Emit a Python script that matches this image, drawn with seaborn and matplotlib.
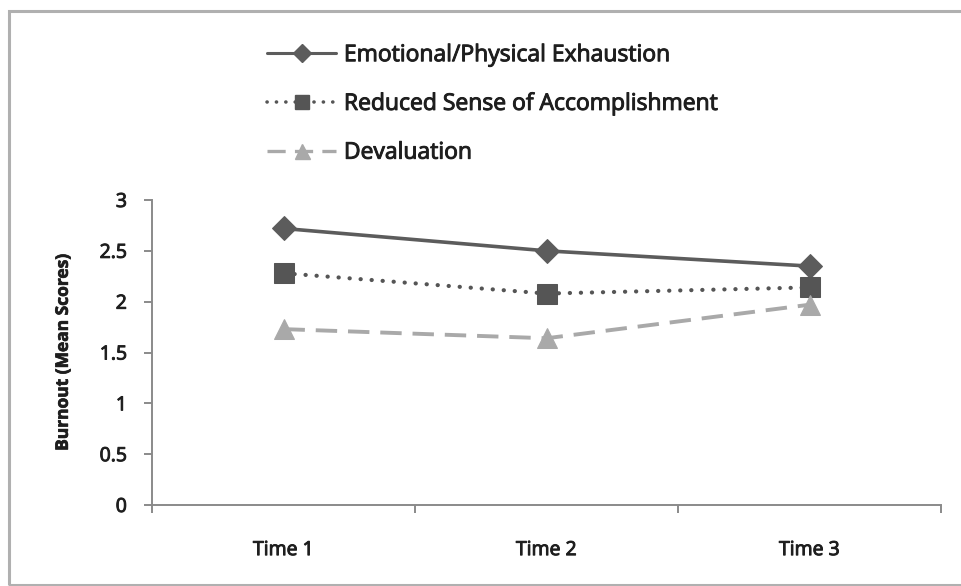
import matplotlib
matplotlib.use("Agg")
import matplotlib.pyplot as plt
import matplotlib.patheffects as pe
from matplotlib.lines import Line2D
import seaborn as sns
import pandas as pd

# Burnout mean scores at three measurement points
times = ["Time 1", "Time 2", "Time 3"]
exhaustion = [2.72, 2.50, 2.35]
accomplishment = [2.28, 2.08, 2.14]
devaluation = [1.73, 1.64, 1.97]
series_names = ["Emotional/Physical Exhaustion",
                "Reduced Sense of Accomplishment",
                "Devaluation"]
y_ticks = [0, 0.5, 1, 1.5, 2, 2.5, 3]
y_tick_labels = ["0", "0.5", "1", "1.5", "2", "2.5", "3"]

sns.set_theme(style="white")
plt.rcParams["font.family"] = ["Open Sans", "DejaVu Sans"]
TEXT = "#1e1e1e"
AXIS = "#8a8a8a"
heavy = [pe.withStroke(linewidth=0.7, foreground=TEXT)]

fig = plt.figure(figsize=(9.61, 5.86), dpi=100)
ax = fig.add_axes([152 / 961, 1 - 505 / 586, (941 - 152) / 961, 305 / 586])

pos = list(range(len(times)))
styles = [
    dict(values=exhaustion, color="#5c5c5c", marker="D", ms=12.5,
         lw=2.6, dashes=None, cap="butt"),
    dict(values=accomplishment, color="#555555", marker="s", ms=14,
         lw=3.0, dashes=(0.05, 2.6), cap="round"),
    dict(values=devaluation, color="#a9a9a9", marker="^", ms=15,
         lw=2.8, dashes=(5.5, 2.8), cap="butt"),
]

for name, st in zip(series_names, styles):
    df = pd.DataFrame({"pos": pos, "score": st["values"]})
    sns.lineplot(data=df, x="pos", y="score", ax=ax, color=st["color"],
                 marker=st["marker"], markersize=st["ms"],
                 markeredgecolor=st["color"], markerfacecolor=st["color"],
                 linewidth=st["lw"], sort=False, legend=False)
    line = ax.lines[-1]
    if st["dashes"] is not None:
        line.set_dashes(st["dashes"])
    line.set_dash_capstyle(st["cap"])

ax.set_xlim(-0.5, 2.5)
ax.set_ylim(0, 3)
ax.set_xticks(pos)
ax.set_xticklabels(times, fontsize=14)
ax.set_xticks([-0.5, 0.5, 1.5, 2.5], minor=True)
ax.set_yticks(y_ticks)
ax.set_yticklabels(y_tick_labels, fontsize=14)
ax.tick_params(axis="x", which="major", length=0, pad=26, labelcolor=TEXT)
ax.tick_params(axis="x", which="minor", length=6, width=1.4, color=AXIS,
               direction="out", bottom=True)
ax.tick_params(axis="y", length=6, width=1.4, color=AXIS,
               direction="out", left=True, pad=12, labelcolor=TEXT)
for lbl in ax.get_xticklabels() + ax.get_yticklabels():
    lbl.set_path_effects(heavy)
ax.set_xlabel("")
ax.set_ylabel("Burnout (Mean Scores)", fontsize=12.5, fontweight="bold",
              color=TEXT, labelpad=20)
ax.yaxis.label.set_path_effects([pe.withStroke(linewidth=0.5, foreground=TEXT)])

for side in ["top", "right"]:
    ax.spines[side].set_visible(False)
for side in ["left", "bottom"]:
    ax.spines[side].set_color(AXIS)
    ax.spines[side].set_linewidth(1.4)

# Legend, stacked above the plot area
legend_handles = []
for st in styles:
    lh = Line2D([], [], color=st["color"], marker=st["marker"],
                markersize=st["ms"] * 0.72, linewidth=st["lw"] * 0.85)
    if st["dashes"] is not None:
        lh.set_dashes(st["dashes"])
    lh.set_dash_capstyle(st["cap"])
    legend_handles.append(lh)

leg = fig.legend(legend_handles, series_names, loc="upper left",
                 bbox_to_anchor=(258 / 961, 1 - 34 / 586), frameon=False,
                 prop=dict(size=16.5),
                 handlelength=3.0, handletextpad=0.35,
                 labelspacing=1.08, borderaxespad=0)
for t in leg.get_texts():
    t.set_color(TEXT)
    t.set_path_effects(heavy)

# Outer chart frame
fig.patches.append(plt.Rectangle((9 / 961, 1 / 586), 1.0, 1 - 12 / 586,
                                 transform=fig.transFigure, fill=False,
                                 edgecolor="#b0b0b0", linewidth=2.2))

fig.savefig("out.png", dpi=100)
